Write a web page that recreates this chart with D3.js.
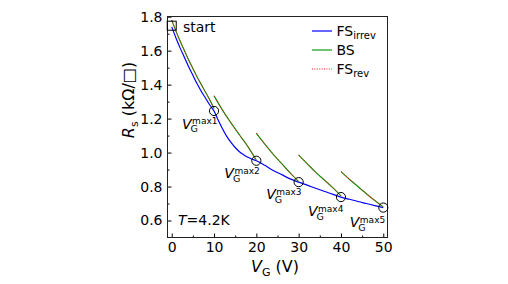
<!DOCTYPE html>
<html>
<head>
<meta charset="utf-8">
<script src="https://cdn.jsdelivr.net/npm/d3@7"></script>
<style>
  body { margin: 0; background: #fff; }
  svg text { font-family: "DejaVu Sans", sans-serif; fill: #000; }
</style>
</head>
<body>
<div id="chart"></div>
<script>
// FS irreversible (blue)
var fsIrrevV = [0,1,2,3,4,5,6,7,8,9,10,11,12,13,14,15,16,17,18,19,20,22,24,26,28,30,32,34,36,38,40,42,44,46,48,50];
var fsIrrevR = [1.74,1.675,1.615,1.56,1.505,1.455,1.405,1.36,1.32,1.28,1.245,1.19,1.14,1.095,1.06,1.03,1.005,0.987,0.972,0.961,0.952,
                0.925,0.895,0.87,0.845,0.826,0.808,0.79,0.772,0.755,0.738,0.725,0.712,0.70,0.688,0.676];

// back sweeps (green) == FS reversible (red dotted), one segment per Vmax
var sweepV = [
  [0,1,2,3,4,5,6,7,8,9,10],
  [10,12,14,16,18,20],
  [20,22,24,26,28,30],
  [30,32,34,36,38,40],
  [40,42,44,46,48,50]
];
var sweepR = [
  [1.78,1.715,1.655,1.6,1.545,1.495,1.445,1.4,1.355,1.31,1.26],
  [1.334,1.25,1.175,1.105,1.035,0.955],
  [1.114,1.05,0.99,0.935,0.88,0.829],
  [0.986,0.935,0.885,0.84,0.795,0.745],
  [0.888,0.843,0.8,0.758,0.718,0.68]
];

var vmaxV = [10,20,30,40,50];
var vmaxR = [1.245,0.952,0.826,0.738,0.676];
var vmaxNames = ["max1","max2","max3","max4","max5"];

var xTicks = [0,10,20,30,40,50];
var yTicks = [0.6,0.8,1.0,1.2,1.4,1.6,1.8];

var width = 508, height = 284;
var plotLeft = 167.5, plotRight = 387.5, plotTop = 16.5, plotBottom = 237.5;

var svg = d3.select("#chart").append("svg")
    .attr("width", width)
    .attr("height", height);

var x = d3.scaleLinear().domain([-1, 51]).range([plotLeft, plotRight]);
var y = d3.scaleLinear().domain([0.5, 1.8]).range([plotBottom, plotTop + 0.2]);

// minor ticks
svg.append("g")
    .attr("transform", "translate(0," + plotBottom + ")")
    .call(d3.axisBottom(x).tickValues([5,15,25,35,45]).tickSize(-2).tickFormat(""))
    .call(function(g){ g.select(".domain").remove(); });
svg.append("g")
    .attr("transform", "translate(" + plotLeft + ",0)")
    .call(d3.axisLeft(y).tickValues([0.7,0.9,1.1,1.3,1.5,1.7]).tickSize(-2).tickFormat(""))
    .call(function(g){ g.select(".domain").remove(); });

// major axes
var xAxis = svg.append("g")
    .attr("transform", "translate(0," + plotBottom + ")")
    .call(d3.axisBottom(x).tickValues(xTicks).tickSize(-4).tickSizeOuter(0).tickPadding(4));
var yAxis = svg.append("g")
    .attr("transform", "translate(" + plotLeft + ",0)")
    .call(d3.axisLeft(y).tickValues(yTicks).tickSize(-4).tickSizeOuter(0).tickPadding(5).tickFormat(d3.format(".1f")));

svg.selectAll(".tick text")
    .style("font-family", "DejaVu Sans, sans-serif")
    .style("font-size", "14px");
xAxis.selectAll(".tick text").attr("dy", "0.76em");
svg.selectAll(".domain").remove();

// frame
svg.append("rect")
    .attr("x", plotLeft).attr("y", plotTop)
    .attr("width", plotRight - plotLeft).attr("height", plotBottom - plotTop)
    .attr("fill", "none").attr("stroke", "#222").attr("stroke-width", 1);

var line = d3.line()
    .x(function(d){ return x(d[0]); })
    .y(function(d){ return y(d[1]); })
    .curve(d3.curveMonotoneX);

// blue FS irrev
svg.append("path")
    .datum(d3.zip(fsIrrevV, fsIrrevR))
    .attr("d", line)
    .attr("fill", "none")
    .attr("stroke", "#0000ff")
    .attr("stroke-width", 1.2);

// green BS + red dotted FS rev
sweepV.forEach(function(vs, i){
    var pts = d3.zip(vs, sweepR[i]);
    svg.append("path")
        .datum(pts)
        .attr("d", line)
        .attr("fill", "none")
        .attr("stroke", "#119911")
        .attr("stroke-width", 1.2);
    svg.append("path")
        .datum(pts)
        .attr("d", line)
        .attr("fill", "none")
        .attr("stroke", "#ff0000")
        .attr("stroke-width", 0.9)
        .attr("stroke-dasharray", "1,1.4");
});

// Vmax circles
svg.selectAll(".vmax")
    .data(d3.zip(vmaxV, vmaxR))
    .enter()
    .append("circle")
    .attr("class", "vmax")
    .attr("cx", function(d){ return x(d[0]); })
    .attr("cy", function(d){ return y(d[1]); })
    .attr("r", 4.6)
    .attr("fill", "none")
    .attr("stroke", "#000")
    .attr("stroke-width", 1);

// start square
svg.append("rect")
    .attr("x", x(0) - 4.5).attr("y", y(1.747) - 4.5)
    .attr("width", 9).attr("height", 9)
    .attr("fill", "none").attr("stroke", "#000").attr("stroke-width", 1);
svg.append("text")
    .attr("x", 183).attr("y", 32)
    .style("font-size", "14px")
    .text("start");

// Vmax labels: V, superscript, then step back for the G subscript
var labelOffsets = [[-32, 18], [-32, 17.5], [-32.5, 17], [-33, 19], [-33.5, 19.5]];
vmaxV.forEach(function(v, i){
    var lx = x(v) + labelOffsets[i][0], ly = y(vmaxR[i]) + labelOffsets[i][1];
    var t = svg.append("text").attr("x", lx).attr("y", ly);
    t.append("tspan").style("font-size", "14px").style("font-style", "italic").text("V");
    var sup = t.append("tspan").attr("dx", 0.5).attr("dy", -4.5).style("font-size", "9px").text(vmaxNames[i]);
    var back = sup.node().getComputedTextLength() + 1.5;
    t.append("tspan").attr("dx", -back).attr("dy", 8).style("font-size", "9.5px").text("G");
});

// T label
var tl = svg.append("text").attr("x", 178).attr("y", 225).style("font-size", "14px");
tl.append("tspan").style("font-style", "italic").text("T");
tl.append("tspan").text("=4.2K");

// legend
var legendItems = [
  {name: "FS", sub: "irrev", color: "#0000ff", dash: null, w: 1.2},
  {name: "BS", sub: "", color: "#119911", dash: null, w: 1.2},
  {name: "FS", sub: "rev", color: "#ff0000", dash: "1,1.4", w: 0.9}
];
legendItems.forEach(function(d, i){
    var ly = 31 + i * 19;
    svg.append("line")
        .attr("x1", 312).attr("x2", 332)
        .attr("y1", ly).attr("y2", ly)
        .attr("stroke", d.color).attr("stroke-width", d.w)
        .attr("stroke-dasharray", d.dash);
    var t = svg.append("text").attr("x", 336.5).attr("y", ly + 5).style("font-size", "14px");
    t.append("tspan").text(d.name);
    if (d.sub) t.append("tspan").attr("dy", 3).style("font-size", "10px").text(d.sub);
});

// axis labels
var xl = svg.append("text")
    .attr("x", 275).attr("y", 272)
    .attr("text-anchor", "middle")
    .style("font-size", "16px");
xl.append("tspan").style("font-style", "italic").text("V");
xl.append("tspan").attr("dy", 4).style("font-size", "11px").text("G");
xl.append("tspan").attr("dy", -4).text(" (V)");

var yl = svg.append("text")
    .attr("transform", "translate(134,100) rotate(-90)")
    .attr("text-anchor", "middle")
    .style("font-size", "16px");
yl.append("tspan").style("font-style", "italic").text("R");
yl.append("tspan").attr("dy", 4).style("font-size", "11px").text("s");
yl.append("tspan").attr("dy", -4).text(" (kΩ/□)");
</script>
</body>
</html>
